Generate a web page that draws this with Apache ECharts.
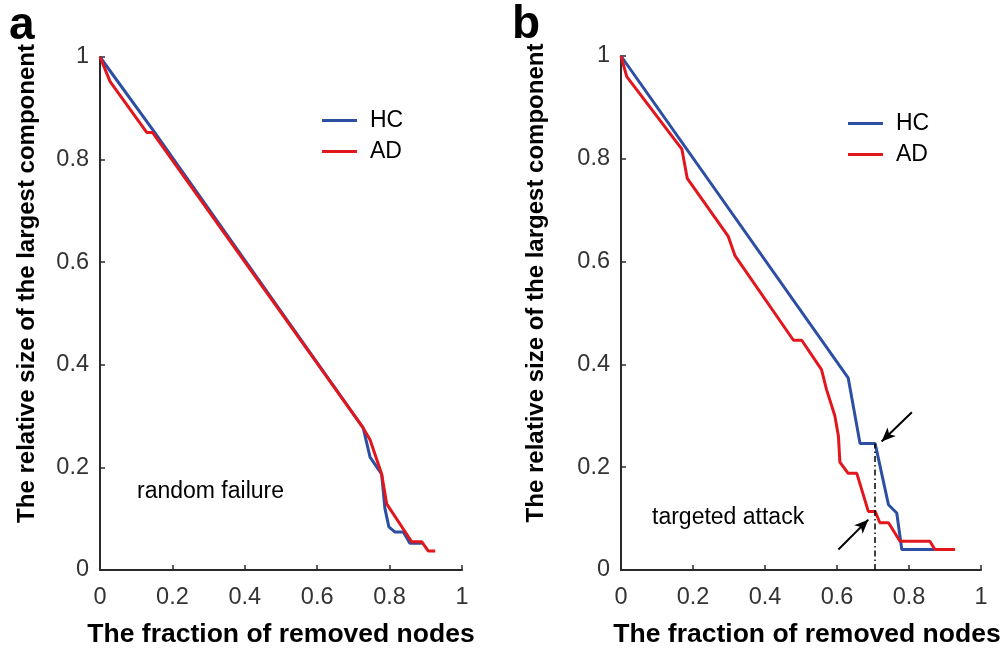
<!DOCTYPE html>
<html>
<head>
<meta charset="utf-8">
<script src="https://cdn.jsdelivr.net/npm/echarts@6/dist/echarts.min.js"></script>
<style>
  html, body { margin: 0; padding: 0; background: #fff; }
  #main { width: 1006px; height: 653px; }
</style>
</head>
<body>
<div id="main"></div>
<script>
// panel a: random failure, [fraction removed, relative size]
const failHC = [[0, 1], [0.147, 0.857], [0.727, 0.277], [0.746, 0.22], [0.778, 0.187], [0.787, 0.12],
  [0.798, 0.084], [0.815, 0.074], [0.838, 0.074], [0.856, 0.052], [0.889, 0.052]]
const failAD = [[0, 1], [0.028, 0.952], [0.129, 0.853], [0.145, 0.853], [0.727, 0.277], [0.746, 0.254],
  [0.778, 0.187], [0.792, 0.129], [0.861, 0.055], [0.889, 0.055], [0.907, 0.037], [0.926, 0.037]]
// panel b: targeted attack
const attackHC = [[0, 1], [0.631, 0.374], [0.664, 0.246], [0.706, 0.246], [0.743, 0.127], [0.766, 0.111],
  [0.78, 0.04], [0.87, 0.04]]
const attackAD = [[0, 1], [0.016, 0.96], [0.169, 0.819], [0.184, 0.762], [0.298, 0.649], [0.317, 0.611],
  [0.479, 0.447], [0.502, 0.447], [0.557, 0.39], [0.571, 0.351], [0.594, 0.3], [0.604, 0.26], [0.608, 0.21],
  [0.631, 0.188], [0.655, 0.188], [0.687, 0.114], [0.706, 0.114], [0.719, 0.092], [0.743, 0.092],
  [0.775, 0.056], [0.858, 0.056], [0.872, 0.04], [0.928, 0.04]]
// guide line and arrows in panel b
const dropX = 0.706
const dropTop = 0.246
const arrowUpper = [[0.808, 0.307], [0.724, 0.25]]
const arrowLower = [[0.604, 0.04], [0.687, 0.098]]
const tickValues = [0, 0.2, 0.4, 0.6, 0.8, 1]

const BLUE = '#2c4fa3'
const RED = '#e2171e'
const AXIS = '#2a2a2a'
const FONT = 'Liberation Sans'

const chart = echarts.init(document.getElementById('main'))

function makeAxis(dim, gridIndex) {
  const isX = dim === 'x'
  let pad = 0
  if (!isX) pad = [0, 0, 0, 60] // y titles sit above the middle of the axis
  else if (gridIndex === 1) pad = [0, 0, 0, 12]
  return {
    type: 'value',
    gridIndex: gridIndex,
    min: tickValues[0],
    max: tickValues[tickValues.length - 1],
    interval: 0.2,
    name: isX ? 'The fraction of removed nodes' : 'The relative size of the largest component',
    nameLocation: 'middle',
    nameGap: isX ? 51 : (gridIndex === 0 ? 61 : 73),
    nameTextStyle: {
      color: '#000', fontFamily: FONT, fontWeight: 'bold',
      fontSize: isX ? 26.5 : 24,
      padding: pad
    },
    axisLine: { show: true, onZero: false, lineStyle: { color: AXIS, width: 2 } },
    axisTick: { show: true, inside: true, length: 5, lineStyle: { color: AXIS, width: 1.5 } },
    axisLabel: { color: '#333', fontFamily: FONT, fontSize: 23.5, margin: isX ? 16 : 11 },
    splitLine: { show: false }
  }
}

function curve(name, data, color, idx) {
  return {
    name: name,
    type: 'line',
    xAxisIndex: idx,
    yAxisIndex: idx,
    data: data,
    showSymbol: false,
    symbol: 'none',
    lineStyle: { color: color, width: 3 },
    itemStyle: { color: color },
    z: name === 'AD' ? 3 : 2
  }
}

const option = {
  animation: false,
  backgroundColor: '#fff',
  grid: [
    { left: 100, right: 544, top: 57, bottom: 78 },
    { left: 621, right: 25, top: 56, bottom: 77 }
  ],
  xAxis: [makeAxis('x', 0), makeAxis('x', 1)],
  yAxis: [makeAxis('y', 0), makeAxis('y', 1)],
  legend: [
    {
      orient: 'vertical', left: 317, top: 104, itemWidth: 35, itemHeight: 3, itemGap: 8,
      icon: 'rect', data: ['HC', 'AD'],
      textStyle: { color: '#000', fontFamily: FONT, fontSize: 23, padding: [0, 0, 0, 8] }
    },
    {
      orient: 'vertical', left: 843, top: 107, itemWidth: 35, itemHeight: 3, itemGap: 8,
      icon: 'rect', data: ['HC', 'AD'],
      textStyle: { color: '#000', fontFamily: FONT, fontSize: 23, padding: [0, 0, 0, 8] }
    }
  ],
  graphic: [
    { type: 'text', left: 9, top: 3, style: { text: 'a', font: 'bold 46px ' + FONT, fill: '#000' } },
    { type: 'text', left: 512, top: 2, style: { text: 'b', font: 'bold 46px ' + FONT, fill: '#000' } },
    { type: 'text', left: 137, top: 480, style: { text: 'random failure', font: '23px ' + FONT, fill: '#000' } },
    { type: 'text', left: 652, top: 506, style: { text: 'targeted attack', font: '23px ' + FONT, fill: '#000' } }
  ],
  series: [
    curve('HC', failHC, BLUE, 0),
    curve('AD', failAD, RED, 0),
    curve('HC', attackHC, BLUE, 1),
    Object.assign(curve('AD', attackAD, RED, 1), {
      markLine: {
        silent: true,
        animation: false,
        label: { show: false },
        data: [
          [
            { coord: [dropX, 0], symbol: 'none', lineStyle: { color: '#000', width: 1.5, type: [6, 3, 1.5, 3] } },
            { coord: [dropX, dropTop], symbol: 'none' }
          ],
          [
            { coord: arrowUpper[0], symbol: 'none', lineStyle: { color: '#000', width: 2, type: 'solid' } },
            { coord: arrowUpper[1], symbol: 'arrow', symbolSize: [9, 14] }
          ],
          [
            { coord: arrowLower[0], symbol: 'none', lineStyle: { color: '#000', width: 2, type: 'solid' } },
            { coord: arrowLower[1], symbol: 'arrow', symbolSize: [9, 14] }
          ]
        ]
      }
    })
  ]
}

chart.setOption(option)
</script>
</body>
</html>
